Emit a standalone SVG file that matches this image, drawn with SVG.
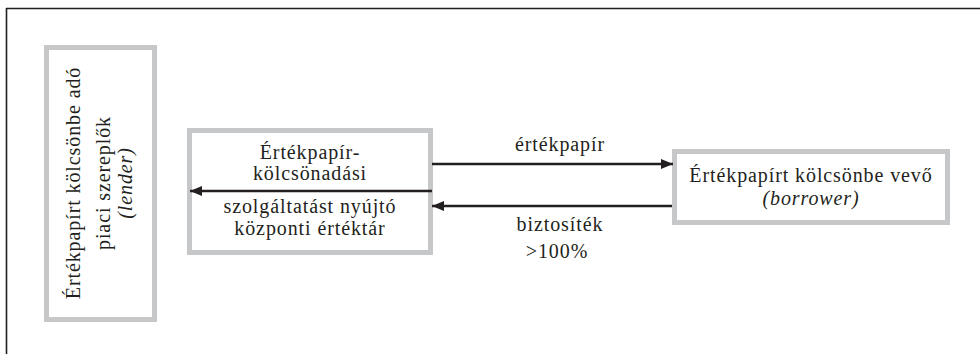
<svg xmlns="http://www.w3.org/2000/svg" width="980" height="354" viewBox="0 0 980 354">
<defs>
<style>
.box{fill:#ffffff;stroke:#c6c7c9;stroke-width:5}
.t{font-family:"Liberation Serif","Times New Roman",serif;font-size:20px;fill:#231f20;letter-spacing:0.9px}
.i{font-style:italic}
.ln{stroke:#231f20;stroke-width:2.6;fill:none}
</style>
<marker id="ah" viewBox="0 0 12 10" refX="12" refY="5" markerWidth="12" markerHeight="10" markerUnits="userSpaceOnUse" orient="auto">
<path d="M0,0 L12,5 L0,10 Z" fill="#231f20"/>
</marker>
</defs>
<rect width="980" height="354" fill="#ffffff"/>
<g id="frame">
<line x1="6" y1="8.5" x2="980" y2="8.5" stroke="#231f20" stroke-width="1.6"/>
<line x1="6.5" y1="8" x2="6.5" y2="354" stroke="#231f20" stroke-width="1.6"/>
</g>
<g id="lender">
<rect class="box" x="46.5" y="47.5" width="108" height="272"/>
<text class="t" transform="translate(80,183) rotate(-90)" text-anchor="middle">Értékpapírt kölcsönbe adó</text>
<text class="t" transform="translate(110,183) rotate(-90)" text-anchor="middle">piaci szereplők</text>
<text class="t i" transform="translate(132,183) rotate(-90)" text-anchor="middle">(lender)</text>
</g>
<g id="depository">
<rect class="box" x="189.5" y="130.5" width="241" height="122"/>
<text class="t" x="310" y="159" text-anchor="middle">Értékpapír-</text>
<text class="t" x="310" y="180" text-anchor="middle">kölcsönadási</text>
<text class="t" x="310" y="213" text-anchor="middle">szolgáltatást nyújtó</text>
<text class="t" x="310" y="235" text-anchor="middle">központi értéktár</text>
</g>
<g id="borrower">
<rect class="box" x="674.5" y="151.5" width="273" height="71"/>
<text class="t" x="811" y="182" text-anchor="middle">Értékpapírt kölcsönbe vevő</text>
<text class="t i" x="811" y="205" text-anchor="middle">(borrower)</text>
</g>
<g id="connectors">
<line class="ln" x1="432" y1="164" x2="673" y2="164" marker-end="url(#ah)"/>
<line class="ln" x1="672" y1="206" x2="432" y2="206" marker-end="url(#ah)"/>
<line class="ln" x1="432" y1="191" x2="190" y2="191" marker-end="url(#ah)"/>
<text class="t" x="560" y="151" text-anchor="middle">értékpapír</text>
<text class="t" x="560" y="231" text-anchor="middle">biztosíték</text>
<text class="t" x="557" y="258" text-anchor="middle">&gt;100%</text>
</g>
</svg>
